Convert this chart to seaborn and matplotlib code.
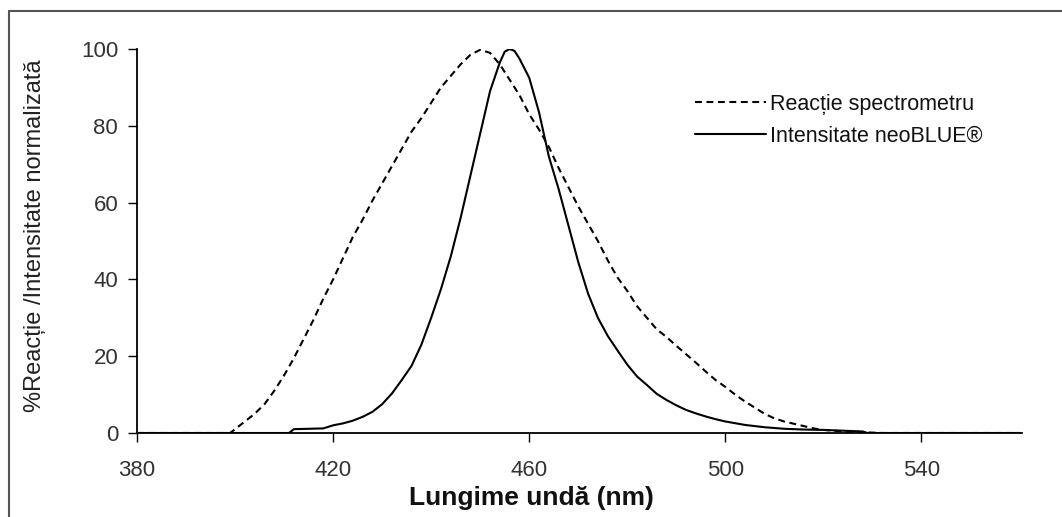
import matplotlib
matplotlib.use("Agg")
import matplotlib.pyplot as plt
from matplotlib.lines import Line2D
import seaborn as sns
import pandas as pd

# Spectrometer response (dashed)
resp_wl = [380, 399, 400, 402, 404, 406, 408, 410, 412, 414, 416, 418, 420, 422, 424, 426, 428, 430,
           432, 434, 436, 438, 440, 442, 444, 446, 448, 450, 452, 454, 456, 458, 460, 462, 464, 466,
           468, 470, 472, 474, 476, 478, 480, 482, 484, 486, 488, 490, 492, 494, 496, 498, 500, 502,
           504, 506, 508, 510, 512, 514, 516, 518, 520, 524, 528, 532, 560]
resp_val = [0, 0, 1, 3, 5, 7.5, 11, 15, 19.5, 24.5, 29.5, 35, 40, 45.5, 51, 55.5, 60.5, 65,
            69.5, 74, 78.5, 82, 86, 90, 93, 96, 98.5, 99.8, 99, 96, 92, 88, 83, 79, 74.5, 69,
            64, 59, 54.5, 50, 45, 40.5, 37, 33, 30, 27, 25, 22.7, 20.5, 18.3, 16, 13.8, 12, 10,
            8.2, 6.6, 5, 3.8, 3, 2.4, 1.8, 1.2, 0.8, 0.4, 0.2, 0, 0]

# neoBLUE intensity (solid)
int_wl = [380, 411, 412, 418, 420, 422, 424, 426, 428, 430, 432, 434, 436, 438, 440, 442, 444, 446,
          448, 450, 452, 454, 455, 456, 457, 458, 460, 462, 464, 466, 468, 470, 472, 474, 476, 478,
          480, 482, 484, 486, 488, 490, 492, 494, 496, 498, 500, 504, 508, 512, 516, 520, 524, 528,
          529, 560]
int_val = [0, 0, 1, 1.2, 2, 2.5, 3.2, 4.2, 5.5, 7.5, 10.3, 13.8, 17.5, 23, 30, 37.5, 46, 56,
           67, 78, 89, 96.5, 99.3, 100, 99.5, 97.5, 92.5, 83.5, 72, 63.5, 54, 44.5, 36.3, 30, 25.3, 21.5,
           17.8, 14.7, 12.5, 10.2, 8.6, 7.2, 6, 5.1, 4.3, 3.6, 3.0, 2.1, 1.5, 1.1, 0.9, 0.8, 0.6, 0.4,
           0, 0]

x_ticks = [380, 420, 460, 500, 540]
y_ticks = [0, 20, 40, 60, 80, 100]
label_resp = "Reacție spectrometru"
label_int = "Intensitate neoBLUE®"

sns.set_theme(style="ticks")
plt.rcParams['font.family'] = ['Liberation Sans', 'DejaVu Sans']

fig = plt.figure(figsize=(10.62, 5.17), dpi=100)
ax = fig.add_axes([137/1062, 1-433/517, (1022-137)/1062, (433-49)/517])

df_r = pd.DataFrame({"wl": resp_wl, "val": resp_val})
df_i = pd.DataFrame({"wl": int_wl, "val": int_val})
sns.lineplot(data=df_r, x="wl", y="val", ax=ax, color="black", lw=1.5,
             linestyle=(0, (3.3, 2.2)), label=label_resp)
sns.lineplot(data=df_i, x="wl", y="val", ax=ax, color="black", lw=1.5,
             linestyle="-", label=label_int)

ax.set_xlim(380, 560.5)
ax.set_ylim(0, 100)
ax.set_xticks(x_ticks)
ax.set_yticks(y_ticks)
ax.tick_params(axis="both", direction="out", length=6.5, width=1, color="black",
               labelsize=16, labelcolor="#333333", pad=7)
ax.tick_params(axis="x", pad=13)
for s in ["top", "right"]:
    ax.spines[s].set_visible(False)
for s in ["left", "bottom"]:
    ax.spines[s].set_color("black")
    ax.spines[s].set_linewidth(1.3)

ax.set_xlabel("")
ax.set_ylabel("%Reacție /Intensitate normalizată", fontsize=17, color="#222222")
ax.yaxis.set_label_coords((46-137)/885, (433-236)/384)
fig.text(531/1062, 1-498/517, "Lungime undă (nm)", ha="center", va="center",
         fontsize=19, fontweight="bold", color="#111111")

leg = ax.legend(loc="upper left", bbox_to_anchor=((686-137)/(1022-137), 1-(85-49)/(433-49)),
                frameon=False, fontsize=15.5, handlelength=3.3, handletextpad=0.2,
                labelspacing=0.5, borderaxespad=0)
for t in leg.get_texts():
    t.set_color("#111111")

# figure border (left and top)
fig.add_artist(Line2D([9/1062, 9/1062], [0, 1-11/517], transform=fig.transFigure,
                      color="#555555", lw=1.5))
fig.add_artist(Line2D([9/1062, 1], [1-11/517, 1-11/517], transform=fig.transFigure,
                      color="#555555", lw=1.5))

fig.savefig("out.png", dpi=100, facecolor="white")
